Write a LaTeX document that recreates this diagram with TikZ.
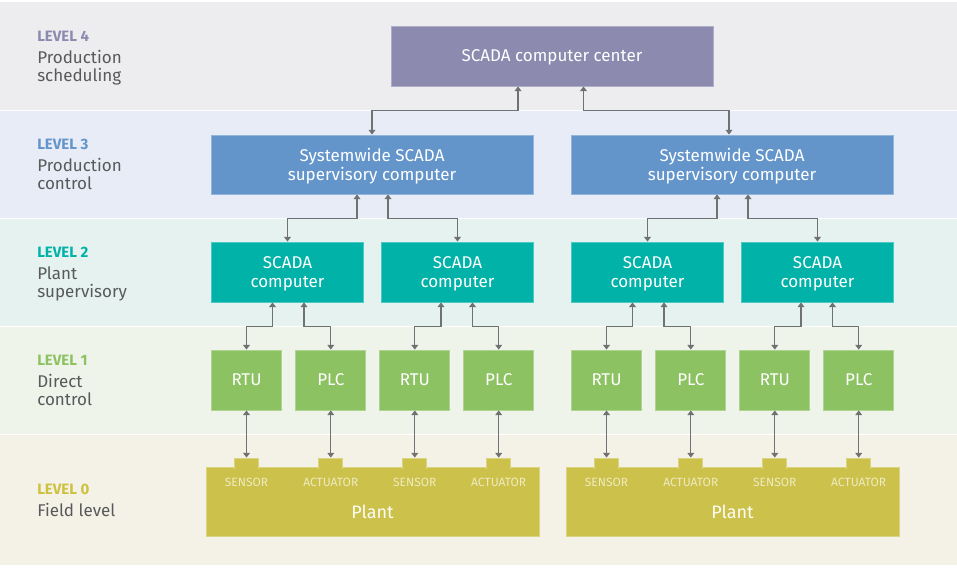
\documentclass[tikz,border=0pt]{standalone}
\usepackage{fontspec}
\setmainfont{Fira Sans}
\usetikzlibrary{arrows.meta,calc}
\definecolor{bandA}{HTML}{EDEDEF}
\definecolor{bandB}{HTML}{E8ECF6}
\definecolor{bandC}{HTML}{E5F2EF}
\definecolor{bandD}{HTML}{EEF4EA}
\definecolor{bandE}{HTML}{F4F2E6}
\definecolor{boxA}{HTML}{8C8AAF}
\definecolor{boxB}{HTML}{6395CB}
\definecolor{boxC}{HTML}{00B2A8}
\definecolor{boxD}{HTML}{8DC262}
\definecolor{boxE}{HTML}{CCC14B}
\definecolor{lvlE}{HTML}{CEC13F}
\definecolor{labgray}{HTML}{58595B}
\definecolor{linegray}{HTML}{707173}
\definecolor{smalltxt}{HTML}{EFEAC0}
\tikzset{
  x=0.75pt, y=-0.75pt,
  box/.style={rectangle, inner sep=0pt, text=white, align=center, text depth=0pt,
    font=\fontsize{12.75}{14.5}\selectfont, line width=0.6pt},
  boxa/.style={box, fill=boxA, draw=boxA!70!white},
  boxb/.style={box, fill=boxB, draw=boxB!70!white},
  boxc/.style={box, fill=boxC, draw=boxC!70!white},
  boxd/.style={box, fill=boxD, draw=boxD!70!white},
  boxe/.style={rectangle, inner sep=0pt, fill=boxE, draw=boxE!70!white, line width=0.6pt},
  conn/.style={draw=linegray, line width=0.9pt,
    {Triangle[length=3.5pt,width=5pt]}-{Triangle[length=3.5pt,width=5pt]}},
  lvl/.style={anchor=base west, inner sep=0pt, font=\fontsize{11.25}{13}\selectfont\bfseries},
  lab/.style={anchor=base west, inner sep=0pt, text=labgray, font=\fontsize{12.75}{14}\selectfont},
  small/.style={anchor=base, inner sep=0pt, text=smalltxt, font=\fontsize{9}{10}\selectfont},
  plantlab/.style={anchor=base, inner sep=0pt, text=white!95!boxE, font=\fontsize{13.5}{15}\selectfont},
}
\begin{document}
\begin{tikzpicture}
\useasboundingbox (0,0) rectangle (957,571);
\fill[white] (0,0) rectangle (957,571);
% bands
\fill[bandA] (0,2) rectangle (957,109.5);
\fill[bandB] (0,110.5) rectangle (957,217.5);
\fill[bandC] (0,218.5) rectangle (957,325.5);
\fill[bandD] (0,326.5) rectangle (957,433.5);
\fill[bandE] (0,434.5) rectangle (957,564.5);

% level labels
\node[lvl, text=boxA] (l4) at (37,41) {LEVEL 4};
\node[lab] (l4a) at (37,63) {Production};
\node[lab] (l4b) at (37,81.5) {scheduling};
\node[lvl, text=boxB] (l3) at (37,149) {LEVEL 3};
\node[lab] (l3a) at (37,171) {Production};
\node[lab] (l3b) at (37,189.5) {control};
\node[lvl, text=boxC] (l2) at (37,257) {LEVEL 2};
\node[lab] (l2a) at (37,279) {Plant};
\node[lab] (l2b) at (37,297.5) {supervisory};
\node[lvl, text=boxD] (l1) at (37,365) {LEVEL 1};
\node[lab] (l1a) at (37,387) {Direct};
\node[lab] (l1b) at (37,405.5) {control};
\node[lvl, text=lvlE] (l0) at (37,494) {LEVEL 0};
\node[lab] (l0a) at (37,516) {Field level};

% level 4
\node[boxa, minimum width=322*0.75pt, minimum height=60*0.75pt] (top) at (552,56) {SCADA computer center};

% level 3
\node[boxb, minimum width=322*0.75pt, minimum height=59*0.75pt] (s3a) at (372,164.5) {Systemwide SCADA\\supervisory computer};
\node[boxb, minimum width=322*0.75pt, minimum height=59*0.75pt] (s3b) at (732,164.5) {Systemwide SCADA\\supervisory computer};

% level 2
\node[boxc, minimum width=152*0.75pt, minimum height=60*0.75pt] (s2a) at (287.5,272) {SCADA\\computer};
\node[boxc, minimum width=152*0.75pt, minimum height=60*0.75pt] (s2b) at (457.5,272) {SCADA\\computer};
\node[boxc, minimum width=152*0.75pt, minimum height=60*0.75pt] (s2c) at (647.5,272) {SCADA\\computer};
\node[boxc, minimum width=152*0.75pt, minimum height=60*0.75pt] (s2d) at (817.5,272) {SCADA\\computer};

% level 1
\foreach \n/\x/\t in {r1/246.5/RTU, p1/330.8/PLC, r2/414.8/RTU, p2/498.7/PLC,
                      r3/606.5/RTU, p3/690.8/PLC, r4/774.8/RTU, p4/858.7/PLC}{
  \node[boxd, minimum width=70*0.75pt, minimum height=60*0.75pt] (\n) at (\x,380) {\t};
}

% level 0 plants
\node[boxe, minimum width=333*0.75pt, minimum height=69*0.75pt] (plantA) at (372.5,501.5) {};
\node[boxe, minimum width=333*0.75pt, minimum height=69*0.75pt] (plantB) at (732.5,501.5) {};
\foreach \n/\x/\t in {t1/246.5/SENSOR, t2/330.8/ACTUATOR, t3/414.8/SENSOR, t4/498.7/ACTUATOR,
                      t5/606.5/SENSOR, t6/690.8/ACTUATOR, t7/774.8/SENSOR, t8/858.7/ACTUATOR}{
  \node[boxe, minimum width=24*0.75pt, minimum height=10*0.75pt] (\n) at (\x,463) {};
  \fill[boxE] ($(\n.south west)+(0.8,-1.2)$) rectangle ($(\n.south east)+(-0.8,1.5)$);
  \node[small] (\n lab) at (\x,486) {\t};
}
\node[plantlab] (plA) at (372.5,518) {Plant};
\node[plantlab] (plB) at (732.5,518) {Plant};

% connectors level 4 - 3
\draw[conn] ($(top.south)+(-34,0)$) -- ++(0,24) -| (s3a.north);
\draw[conn] ($(top.south)+(31.5,0)$) -- ++(0,24) -| ($(s3b.north)+(-3,0)$);

% connectors level 3 - 2
\draw[conn] ($(s3a.south)+(-15,0)$) -- ++(0,24) -| (s2a.north);
\draw[conn] ($(s3a.south)+(16,0)$) -- ++(0,24) -| (s2b.north);
\draw[conn] ($(s3b.south)+(-15,0)$) -- ++(0,24) -| (s2c.north);
\draw[conn] ($(s3b.south)+(16,0)$) -- ++(0,24) -| (s2d.north);

% connectors level 2 - 1
\draw[conn] ($(s2a.south)+(-15,0)$) -- ++(0,24) -| (r1.north);
\draw[conn] ($(s2a.south)+(16.5,0)$) -- ++(0,24) -| (p1.north);
\draw[conn] ($(s2b.south)+(-16.5,0)$) -- ++(0,24) -| (r2.north);
\draw[conn] ($(s2b.south)+(15,0)$) -- ++(0,24) -| (p2.north);
\draw[conn] ($(s2c.south)+(-15,0)$) -- ++(0,24) -| (r3.north);
\draw[conn] ($(s2c.south)+(16.5,0)$) -- ++(0,24) -| (p3.north);
\draw[conn] ($(s2d.south)+(-16.5,0)$) -- ++(0,24) -| (r4.north);
\draw[conn] ($(s2d.south)+(15,0)$) -- ++(0,24) -| (p4.north);

% connectors level 1 - 0
\draw[conn] (r1.south) -- (t1.north);
\draw[conn] (p1.south) -- (t2.north);
\draw[conn] (r2.south) -- (t3.north);
\draw[conn] (p2.south) -- (t4.north);
\draw[conn] (r3.south) -- (t5.north);
\draw[conn] (p3.south) -- (t6.north);
\draw[conn] (r4.south) -- (t7.north);
\draw[conn] (p4.south) -- (t8.north);
\end{tikzpicture}
\end{document}
